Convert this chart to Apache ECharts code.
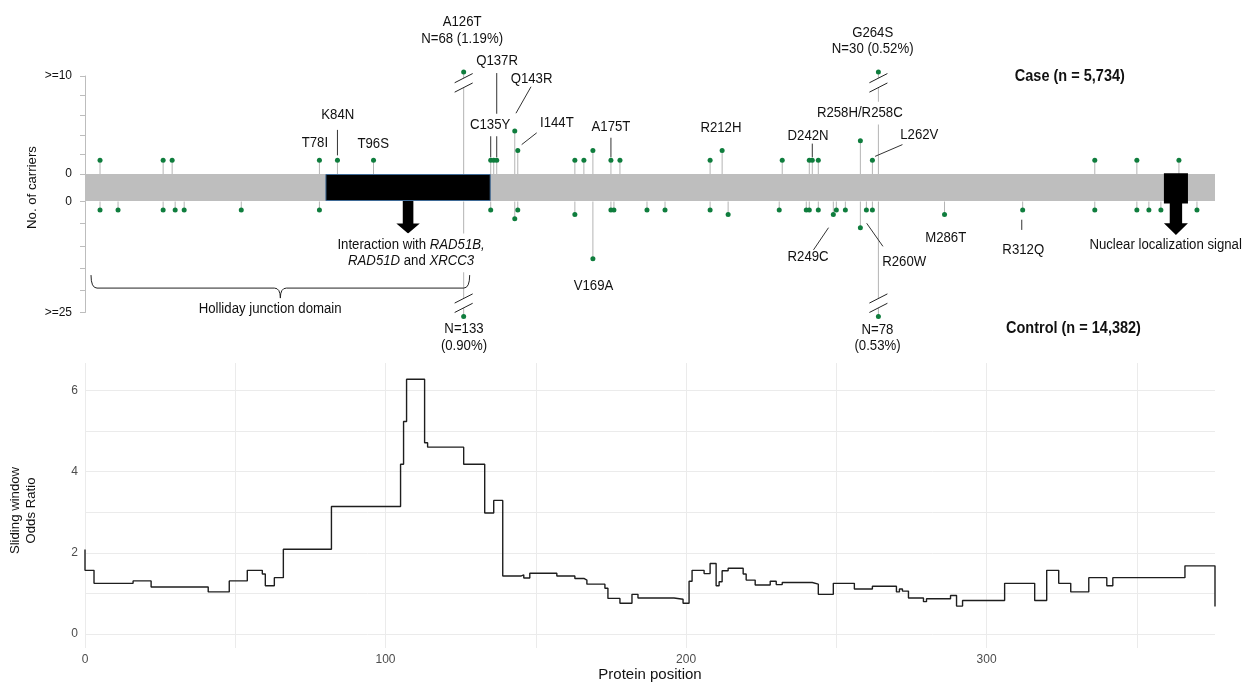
<!DOCTYPE html>
<html><head><meta charset="utf-8">
<script src="https://cdn.jsdelivr.net/npm/echarts@6/dist/echarts.min.js"></script>
<style>html,body{margin:0;padding:0;background:#fff}#c{width:1242px;height:682px}</style>
</head><body><div id="c"></div>
<script>
// ---------------- data ----------------
const proteinLength = 376;
const casePos = [5,26,29,78,84,96,126,135,136,137,143,144,163,166,169,175,178,208,212,232,241,242,244,258,262,264,336,350,364];
const caseN   = [1,1,1,1,1,1,68,1,1,1,4,2,1,1,2,1,1,1,2,1,1,1,1,3,1,30,1,1,1];
const ctrlPos = [5,11,26,30,33,52,78,126,135,143,144,163,169,175,176,187,193,208,214,231,240,241,244,249,250,253,258,260,262,264,286,312,336,350,354,358,370];
const ctrlN   = [1,1,1,1,1,1,1,133,1,3,1,2,12,1,1,1,1,1,2,1,1,1,1,2,1,1,5,1,1,78,2,1,1,1,1,1,1];
const caseCap = 10, ctrlCap = 25;
const caseTickLabels = ['0', '>=10'];
const ctrlTickLabels = ['0', '>=25'];
const interactionDomain = [80, 135];
const nlsDomain = [359, 367];
const hollidayDomain = [2, 128];
const orPos = [0,0,3,16,22,41,48,54,59,60,63,66,82,105,106,107,113,114,126,133,136,139,145,146,148,157,163,166,167,173,174,178,182,184,196,199,201,202,206,208,210,211,212,214,219,220,223,228,230,232,242,244,249,256,262,270,271,272,274,279,280,288,290,292,306,316,320,324,328,334,340,342,366,376,376];
const orVal = [2.08,1.57,1.25,1.31,1.16,1.04,1.31,1.57,1.48,1.19,1.39,2.09,3.14,4.18,5.23,6.27,4.71,4.60,4.18,2.98,3.29,1.43,1.46,1.38,1.50,1.43,1.37,1.33,1.23,1.13,0.88,0.76,0.98,0.89,0.86,0.76,1.30,1.57,1.49,1.74,1.19,1.29,1.56,1.62,1.48,1.33,1.21,1.30,1.22,1.27,1.23,0.98,1.25,1.11,1.18,1.04,1.11,1.06,0.89,0.80,0.87,0.95,0.69,0.83,1.25,0.83,1.57,1.25,1.04,1.39,1.19,1.39,1.68,1.68,0.68];
const orXTicks = [0, 100, 200, 300];
const orYTicks = [0, 2, 4, 6];

// ---------------- layout / style ----------------
const FONT = "'Liberation Sans', Arial, Helvetica, sans-serif";
const GREEN = '#0f7d3d';
const TXT = '#111';
const CASE_MIN = -0.4, CASE_MAX = 9.6;
const CTRL_MIN = -0.9, CTRL_MAX = 24.1;

const caseNotes = [
  {t:'A126T', x:125.5, y:15.1},
  {t:'N=68 (1.19%)', x:125.5, y:13.4},
  {t:'Q137R', x:137.1, y:11.1},
  {t:'Q143R', x:148.6, y:9.3},
  {t:'C135Y', x:134.8, y:4.6, bg:true},
  {t:'I144T', x:157.0, y:4.8},
  {t:'A175T', x:175.0, y:4.4},
  {t:'R212H', x:211.6, y:4.3},
  {t:'D242N', x:240.6, y:3.5},
  {t:'R258H/R258C', x:257.8, y:5.8, bg:true},
  {t:'L262V', x:277.6, y:3.6},
  {t:'G264S', x:262.1, y:14.0},
  {t:'N=30 (0.52%)', x:262.1, y:12.4},
  {t:'K84N', x:84.1, y:5.6},
  {t:'T78I', x:76.5, y:2.8},
  {t:'T96S', x:95.9, y:2.7},
  {t:'Case (n = 5,734)', x:327.7, y:9.5, bold:true}
];
const caseLeaders = [
  [137,9.9,137,1.3],[135,3.8,135,1.3],[148.4,8.5,143.4,5.8],[150.3,3.8,145.3,2.6],
  [175,3.3,175,1.3],[242,2.7,242,1.3],[272.0,2.6,262.9,1.4],[84,4.1,84,1.5]
];
const ctrlNotes = [
  {t:'N=133', x:126.1, y:27.8},
  {t:'(0.90%)', x:126.1, y:31.6},
  {t:'Interaction with {i|RAD51B,}\n{i|RAD51D} and {i|XRCC3}', x:108.5, y:10.65, bg:true, rich:true},
  {t:'V169A', x:169.2, y:18.2},
  {t:'R249C', x:240.6, y:11.5},
  {t:'R260W', x:272.6, y:12.6},
  {t:'M286T', x:286.4, y:7.4},
  {t:'R312Q', x:312.2, y:10.0},
  {t:'N=78', x:263.7, y:28.0},
  {t:'(0.53%)', x:263.7, y:31.6},
  {t:'Nuclear localization signal', x:334.2, y:8.85, align:'left'},
  {t:'Control (n = 14,382)', x:328.9, y:27.8, bold:true},
  {t:'Holliday junction domain', x:61.6, y:23.3}
];
const ctrlLeaders = [[247.4,5.0,242.4,10.0],[260.1,4.0,265.5,9.2],[311.7,3.2,311.7,5.5]];

function lollipopStems(gi, pos, n, cap, base) {
  return {type:'custom', xAxisIndex:gi, yAxisIndex:gi, z:1, clip:false, silent:true,
    data: pos.map((p,i)=>[p, Math.min(n[i], cap)]),
    renderItem(params, api) {
      const a = api.coord([api.value(0), base]);
      const b = api.coord([api.value(0), api.value(1)]);
      return {type:'line', shape:{x1:a[0],y1:a[1],x2:b[0],y2:b[1]}, style:{stroke:'#b4b4b4', lineWidth:1}};
    }};
}
function lollipopDots(gi, pos, n, cap) {
  return {type:'scatter', xAxisIndex:gi, yAxisIndex:gi, z:5, clip:false, silent:true,
    symbolSize:5, itemStyle:{color:GREEN, opacity:1},
    data: pos.map((p,i)=>[p, Math.min(n[i], cap)])};
}
function breaks(gi, pos, n, cap, brk) {
  return {type:'custom', xAxisIndex:gi, yAxisIndex:gi, z:4, clip:false, silent:true,
    data: pos.filter((p,i)=>n[i]>cap).map(p=>[p, brk]),
    renderItem(params, api) {
      const c = api.coord([api.value(0), api.value(1)]);
      const hx=9, hy=4.6, g=4.7, x=c[0], y=c[1];
      return {type:'group', children:[
        {type:'polygon', shape:{points:[[x-hx,y-g+hy],[x+hx,y-g-hy],[x+hx,y+g-hy],[x-hx,y+g+hy]]}, style:{fill:'#fff'}},
        {type:'line', shape:{x1:x-hx,y1:y-g+hy,x2:x+hx,y2:y-g-hy}, style:{stroke:'#222',lineWidth:1}},
        {type:'line', shape:{x1:x-hx,y1:y+g+hy,x2:x+hx,y2:y+g-hy}, style:{stroke:'#222',lineWidth:1}}
      ]};
    }};
}
function notes(gi, list) {
  return {type:'custom', xAxisIndex:gi, yAxisIndex:gi, z:7, clip:false, silent:true,
    data: list.map(n=>[n.x, n.y]),
    renderItem(params, api) {
      const n = list[params.dataIndex];
      const c = api.coord([api.value(0), api.value(1)]);
      const style = {text:n.t, fill:TXT, fontSize: n.bold ? 14.5 : 13.2, fontFamily:FONT,
        fontWeight: n.bold ? 'bold' : 'normal', align: n.align || 'center', verticalAlign:'middle', lineHeight:14.3};
      if (n.bg) { style.backgroundColor = '#fff'; style.padding = [3,1]; }
      if (n.rich) style.rich = {i:{fontStyle:'italic', fontSize:13.2, fontFamily:FONT, fill:TXT, lineHeight:14.3}};
      return {type:'text', x:c[0], y:c[1], scaleY:1.12, style};
    }};
}
function leaders(gi, list) {
  return {type:'custom', xAxisIndex:gi, yAxisIndex:gi, z:3, clip:false, silent:true,
    data: list,
    renderItem(params, api) {
      const a = api.coord([api.value(0), api.value(1)]);
      const b = api.coord([api.value(2), api.value(3)]);
      return {type:'line', shape:{x1:a[0],y1:a[1],x2:b[0],y2:b[1]}, style:{stroke:'#333', lineWidth:1}};
    }};
}

const protein = {type:'custom', xAxisIndex:1, yAxisIndex:1, z:2, clip:false, silent:true,
  data:[[0, proteinLength], interactionDomain, nlsDomain],
  renderItem(params, api) {
    const a = api.coord([api.value(0), 1]);
    const b = api.coord([api.value(1), 0]);
    const k = params.dataIndex;
    if (k === 0) return {type:'rect', shape:{x:a[0], y:a[1], width:b[0]-a[0], height:b[1]-a[1]}, style:{fill:'#bebebe'}};
    const mid = (a[0]+b[0])/2, bot = b[1];
    if (k === 1) {
      return {type:'group', children:[
        {type:'rect', shape:{x:a[0]+0.5, y:a[1]+0.5, width:b[0]-a[0]-1, height:b[1]-a[1]-1}, style:{fill:'#000', stroke:'#3f6a96', lineWidth:1}},
        {type:'polygon', shape:{points:[[mid-5.3,bot],[mid+5.3,bot],[mid+5.3,bot+22.5],[mid+11.7,bot+22.5],[mid,bot+32.5],[mid-11.7,bot+22.5],[mid-5.3,bot+22.5]]}, style:{fill:'#000'}}
      ]};
    }
    return {type:'polygon', shape:{points:[[a[0],a[1]-0.8],[b[0],a[1]-0.8],[b[0],bot+2.5],[mid+6.2,bot+2.5],[mid+6.2,bot+22.3],[mid+12,bot+22.3],[mid,bot+34],[mid-12,bot+22.3],[mid-6.2,bot+22.3],[mid-6.2,bot+2.5],[a[0],bot+2.5]]}, style:{fill:'#000'}};
  }};

const brace = {type:'custom', xAxisIndex:2, yAxisIndex:2, z:3, clip:false, silent:true,
  data:[hollidayDomain],
  renderItem(params, api) {
    const s = api.value(0), e = api.value(1);
    const p0 = api.coord([s, 18.6]), p1 = api.coord([e, 18.6]), pm = api.coord([(s+e)/2, 18.6]);
    const y = p0[1], x0 = p0[0], x1 = p1[0], xm = pm[0], up = 13, r = 6, tip = 10;
    const d = `M${x0},${y-up} Q${x0},${y} ${x0+r},${y} L${xm-r},${y} Q${xm},${y} ${xm},${y+tip} Q${xm},${y} ${xm+r},${y} L${x1-r},${y} Q${x1},${y} ${x1},${y-up}`;
    return {type:'path', shape:{pathData:d}, style:{stroke:'#222', fill:null, lineWidth:1}};
  }};

const hiddenX = gi => ({gridIndex:gi, type:'value', min:0, max:proteinLength, show:false});
const countAxis = (gi, mn, mx, step, labels, inverse) => ({
  gridIndex:gi, type:'value', min:mn, max:mx, interval:step, inverse:!!inverse, offset:5,
  axisLine:{show:true, lineStyle:{color:'#bdbdbd', width:1}},
  axisTick:{show:true, length:5, lineStyle:{color:'#bdbdbd'}},
  splitLine:{show:false},
  axisLabel:{color:TXT, fontSize:12, fontFamily:FONT, margin:8,
    formatter: v => Math.abs(v-mn) < 1e-6 ? labels[0] : (Math.abs(v-mx) < 1e-6 ? labels[1] : '')}
});

const option = {
  animation:false,
  backgroundColor:'#fff',
  textStyle:{fontFamily:FONT},
  grid:[
    {left:85, top:76, width:1130, height:98, outerBoundsMode:'none', containLabel:false},
    {left:85, top:174, width:1130, height:27, outerBoundsMode:'none', containLabel:false},
    {left:85, top:201.5, width:1130, height:111, outerBoundsMode:'none', containLabel:false},
    {left:85, top:363, width:1130, height:285, outerBoundsMode:'none', containLabel:false}
  ],
  xAxis:[hiddenX(0), hiddenX(1), hiddenX(2),
    {gridIndex:3, type:'value', min:0, max:proteinLength, interval:50,
     axisLine:{show:false}, axisTick:{show:false},
     splitLine:{show:true, showMaxLine:false, lineStyle:{color:['#ebebeb','#ebebeb','#ebebeb','#ebebeb','#ebebeb','#ebebeb','#ebebeb','#ebebeb','rgba(0,0,0,0)'], width:1}},
     axisLabel:{color:'#4d4d4d', fontSize:12, fontFamily:FONT, margin:6, showMaxLabel:false,
       formatter: v => orXTicks.includes(v) ? String(v) : ''},
     name:'Protein position', nameLocation:'middle', nameGap:19,
     nameTextStyle:{color:TXT, fontSize:15, fontFamily:FONT}}
  ],
  yAxis:[
    countAxis(0, CASE_MIN, CASE_MAX, 2, caseTickLabels, false),
    {gridIndex:1, type:'value', min:0, max:1, axisLine:{show:false}, axisTick:{show:false}, axisLabel:{show:false}, splitLine:{show:false},
     name:'No. of carriers', nameLocation:'middle', nameGap:46, nameTextStyle:{color:TXT, fontSize:13.2, fontFamily:FONT}},
    countAxis(2, CTRL_MIN, CTRL_MAX, 5, ctrlTickLabels, true),
    {gridIndex:3, type:'value', min:-0.34, max:6.67, splitNumber:7,
     axisLine:{show:false}, axisTick:{show:false},
     splitLine:{show:true, showMinLine:false, showMaxLine:false, lineStyle:{color:'#ebebeb', width:1}},
     axisLabel:{color:'#4d4d4d', fontSize:12, fontFamily:FONT, margin:7, showMinLabel:false, showMaxLabel:false,
       formatter: v => orYTicks.includes(Math.round(v*1000)/1000) ? String(Math.round(v)) : ''},
     name:'Sliding window\nOdds Ratio', nameLocation:'middle', nameGap:46,
     nameTextStyle:{color:TXT, fontSize:13.2, fontFamily:FONT, lineHeight:16, padding:[0,10,0,0]}}
  ],
  series:[
    lollipopStems(0, casePos, caseN, caseCap, CASE_MIN),
    lollipopStems(2, ctrlPos, ctrlN, ctrlCap, CTRL_MIN),
    protein,
    leaders(0, caseLeaders),
    leaders(2, ctrlLeaders),
    brace,
    breaks(0, casePos, caseN, caseCap, caseCap - 1.1),
    breaks(2, ctrlPos, ctrlN, ctrlCap, ctrlCap - 3),
    lollipopDots(0, casePos, caseN, caseCap),
    lollipopDots(2, ctrlPos, ctrlN, ctrlCap),
    notes(0, caseNotes),
    notes(2, ctrlNotes),
    {type:'line', xAxisIndex:3, yAxisIndex:3, step:'end', showSymbol:false, symbol:'none', silent:true, z:5,
     data: orPos.map((p,i)=>[p, orVal[i]]), lineStyle:{color:'#1e1e1e', width:1.4}}
  ]
};
const chart = echarts.init(document.getElementById('c'), null, {renderer:'canvas'});
chart.setOption(option);
</script></body></html>
